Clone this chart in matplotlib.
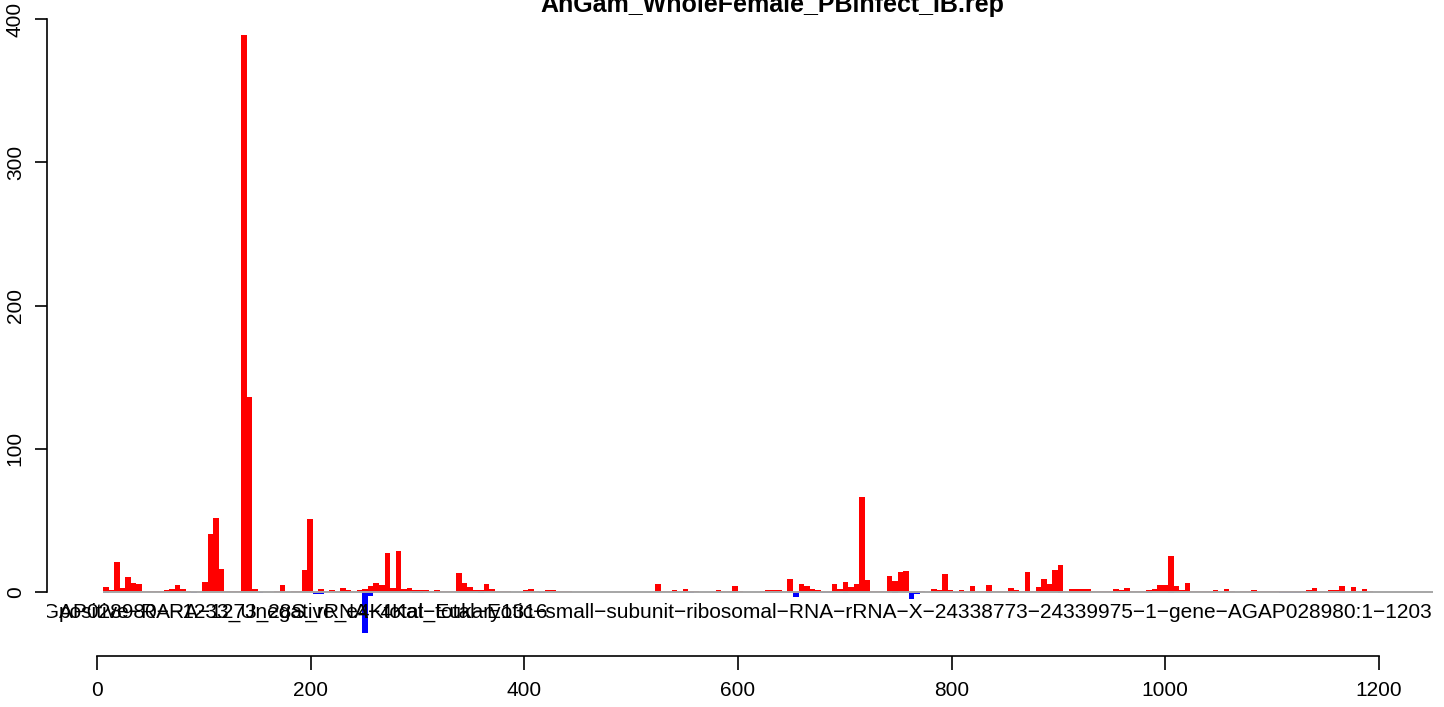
#!/usr/bin/env python3

'''Coverage barplot of reads along the 18S rRNA (AnGam, whole female)'''

import matplotlib
matplotlib.use('Agg')
import matplotlib.pyplot as plt

plt.rcParams['font.family'] = ['Liberation Sans', 'DejaVu Sans']

W, H = 1444, 707

title = 'AnGam_WholeFemale_PBinfect_IB.rep'
bin_size = 5

# read counts per 5 nt bin, sense strand (red)
plus_counts = [
    3.3, 1.2, 20.7, 2.6, 10.2, 6, 5.3, 1, 1, 1,
    1, 1.2, 1.9, 4.7, 1.9, 1, 0, 0, 6.7, 40.2,
    51.4, 15.8, 1, 1, 1, 389, 136, 1.9, 0, 0,
    0, 1, 4.7, 0, 1, 1, 15.1, 50.7, 1, 1.9,
    1, 1.2, 1, 2.6, 1.2, 1, 1.2, 1.9, 4, 6,
    4.7, 27, 2.6, 28.4, 1.9, 2.6, 1.2, 1.2, 1.2, 1,
    1.2, 1, 1, 1, 13.3, 6, 3.3, 1.2, 1.2, 5.3,
    1.9, 1, 1, 1, 0, 0, 1.2, 1.9, 1, 0,
    1.2, 1.2, 1, 1, 1, 0, 0, 0, 0, 0,
    0, 0, 0, 0, 0, 0, 0, 0, 0, 0,
    5.3, 1, 1, 1.2, 1, 1.9, 1, 1, 0, 0,
    0, 1.2, 1, 1, 4, 1, 0, 0, 0, 1,
    1.2, 1.2, 1.2, 1, 8.8, 1, 5.3, 4, 1.9, 1.2,
    1, 1, 5.3, 1.9, 6.7, 3.3, 5.3, 66, 8.1, 1,
    1, 1, 10.9, 7.4, 13.7, 14.4, 0, 1, 1, 0,
    1.9, 1.2, 12.3, 1.2, 0, 1.2, 1, 4, 1, 1,
    4.7, 1, 1, 1, 2.6, 1.2, 1, 13.7, 1, 3.3,
    8.8, 5.3, 15.1, 18.6, 1, 1.9, 1.9, 1.9, 1.9, 1,
    1, 1, 1, 1.9, 1.2, 2.6, 1, 1, 1, 1.2,
    1.9, 4.7, 4.7, 24.9, 4, 1.2, 6, 1, 1, 1,
    1, 1.2, 1, 1.9, 1, 0, 1, 1, 1.2, 1,
    1, 1, 1, 1, 1, 1, 1, 1, 1.2, 2.6,
    1, 1, 1.2, 1.2, 4, 1, 3.3, 1, 1.9, 1,
    0, 0, 0, 0, 0, 0, 0, 0, 0, 0,
    0,
]

# antisense strand (blue): bin index and count
minus_bins = [0, 16, 28, 38, 39, 47, 48, 56, 57, 68, 79, 106, 125, 130, 131,
              134, 143, 146, 147, 154, 160, 173, 189, 193, 213, 214, 215, 216, 224]
minus_vals = [-1, -1, -1, -1.5, -1.5, -28.6, -3, -1, -1, -1, -1, -1, -3.5, -1, -1,
              -1, -1, -4.6, -1.5, -1, -1, -1, -1, -1, -1, -1, -1, -1, -1]

count_ticks = [0, 100, 200, 300, 400]
pos_ticks = [0, 200, 400, 600, 800, 1000, 1200]

# overlapping sequence names as R drew them
name_left = 'AGAP028980\u2212RA\u22121273_28S_rRNA\u22124Kat_total\u2212E1316'
name_main = ('positive\u2212RA\u22121233_Unegative_e4Ktotal\u2212Eukaryotic\u2212small\u2212subunit'
             '\u2212ribosomal\u2212RNA\u2212rRNA\u2212X\u221224338773\u221224339975\u22121\u2212gene'
             '\u2212AGAP028980:1\u22121203')


def px(x, y):
    '''pixel -> figure fraction'''
    return x / W, 1 - y / H


fig = plt.figure(figsize=(W / 100, H / 100), dpi=100)

# bar panel: 0 nt at 103 px, 1.104 px per nt; 0 count at 592 px, 1.4325 px per count
ax = fig.add_axes([47 / W, 1 - 656 / H, (W - 47) / W, (656 - 19) / H])
ax.set_xlim(-(103 - 47) / 1.104, (W - 103) / 1.104)
ax.set_ylim(-(656 - 592) / 1.4325, 400)

starts = [i * bin_size for i in range(len(plus_counts))]
ax.bar(starts, plus_counts, width=bin_size, align='edge', color='#FF0000', linewidth=0, zorder=2)
ax.bar([b * bin_size for b in minus_bins], minus_vals, width=bin_size, align='edge',
       color='#0000FF', linewidth=0, zorder=2)
ax.plot([0, len(plus_counts) * bin_size], [0, 0], color='#A6A6A6', lw=1.4, zorder=3,
        solid_capstyle='butt')

for s in ['top', 'right', 'bottom']:
    ax.spines[s].set_visible(False)
ax.spines['left'].set_bounds(0, 400)
ax.spines['left'].set_linewidth(1.2)
ax.set_xticks([])
ax.set_yticks(count_ticks)
ax.set_yticklabels([str(t) for t in count_ticks], rotation=90, va='center', fontsize=15)
ax.tick_params(axis='y', length=9, width=1.2, pad=7)
ax.patch.set_visible(False)

# separate position axis underneath
ax2 = fig.add_axes([47 / W, 1 - 656 / H, (W - 47) / W, 0.0001])
ax2.set_xlim(-(97 - 47) / 1.0683, (W - 97) / 1.0683)
for s in ['top', 'right', 'left']:
    ax2.spines[s].set_visible(False)
ax2.spines['bottom'].set_bounds(0, 1200)
ax2.spines['bottom'].set_linewidth(1.2)
ax2.set_yticks([])
ax2.set_xticks(pos_ticks)
ax2.set_xticklabels([str(t) for t in pos_ticks], fontsize=15)
ax2.tick_params(axis='x', length=10, width=1.2, pad=8)
ax2.patch.set_visible(False)

# names are clipped at the left edge of the plot region, like in the original
x, y = px(30, 612)
ax.text(x, y, name_left, fontsize=15, ha='left', va='center',
        transform=fig.transFigure, clip_on=True)
x, y = px(1432, 612)
ax.text(x, y, name_main, fontsize=15, ha='right', va='center',
        transform=fig.transFigure, clip_on=True)

x, y = px(772, 12)
fig.text(x, y, title, fontsize=18, fontweight='bold', ha='center', va='baseline')

fig.savefig('out.png', dpi=100)
